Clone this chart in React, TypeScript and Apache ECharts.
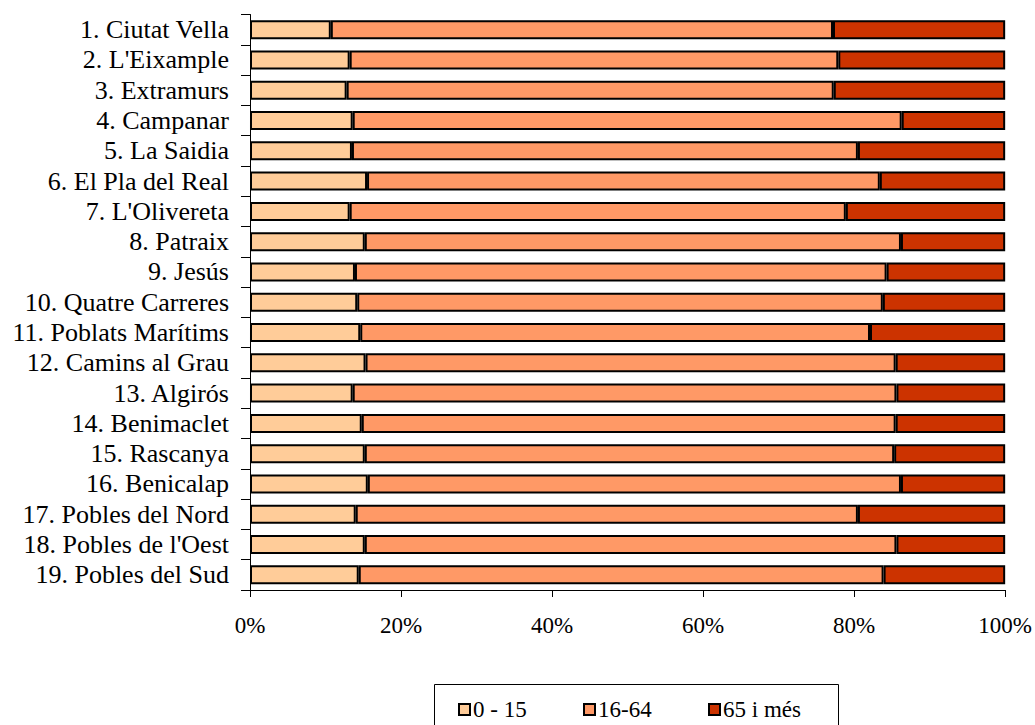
import React, { useEffect, useRef } from "react";
import * as echarts from "echarts";

const categories = [
  "1. Ciutat Vella",
  "2. L'Eixample",
  "3. Extramurs",
  "4. Campanar",
  "5. La Saidia",
  "6. El Pla del Real",
  "7. L'Olivereta",
  "8. Patraix",
  "9. Jesús",
  "10. Quatre Carreres",
  "11. Poblats Marítims",
  "12. Camins al Grau",
  "13. Algirós",
  "14. Benimaclet",
  "15. Rascanya",
  "16. Benicalap",
  "17. Pobles del Nord",
  "18. Pobles de l'Oest",
  "19. Pobles del Sud",
];

const age0to15 = [10.7, 13.2, 12.8, 13.6, 13.5, 15.5, 13.2, 15.2, 13.9, 14.2, 14.6, 15.3, 13.6, 14.8, 15.2, 15.6, 14.0, 15.2, 14.4];
const age16to64 = [66.5, 64.7, 64.5, 72.7, 67.0, 67.9, 65.7, 71.0, 70.4, 69.6, 67.5, 70.2, 72.0, 70.7, 70.1, 70.6, 66.5, 70.4, 69.5];
const age65plus = [22.8, 22.1, 22.7, 13.7, 19.5, 16.6, 21.1, 13.8, 15.7, 16.2, 17.9, 14.5, 14.4, 14.5, 14.7, 13.8, 19.5, 14.4, 16.1];

const seriesNames = ["0 - 15", "16-64", "65 i més"];
const seriesColors = ["#FFCC99", "#FF9966", "#CC3300"];
const legendLefts = [458, 583, 708];

const FONT = "'Liberation Serif', 'Times New Roman', serif";

export default function App() {
  const ref = useRef<HTMLDivElement>(null);
  useEffect(() => {
    if (!ref.current) return;
    const chart = echarts.init(ref.current, undefined, { renderer: "svg" });
    const data = [age0to15, age16to64, age65plus];
    chart.setOption({
      animation: false,
      backgroundColor: "#ffffff",
      grid: { left: 250, right: 28, top: 14.5, bottom: 135, containLabel: false },
      xAxis: {
        type: "value",
        min: 0,
        max: 100,
        interval: 20,
        splitLine: { show: false },
        axisLine: { show: true, lineStyle: { color: "#000", width: 1 } },
        axisTick: { show: true, length: 7, lineStyle: { color: "#000" } },
        axisLabel: {
          formatter: "{value}%",
          color: "#000",
          fontFamily: FONT,
          fontSize: 23,
          margin: 24,
        },
      },
      yAxis: {
        type: "category",
        inverse: true,
        data: categories,
        axisLine: { show: true, lineStyle: { color: "#000", width: 1 } },
        axisTick: { show: true, length: 9, lineStyle: { color: "#000" } },
        axisLabel: {
          interval: 0,
          color: "#000",
          fontFamily: FONT,
          fontSize: 26,
          margin: 21,
        },
      },
      graphic: [
        {
          type: "rect",
          shape: { x: 434.5, y: 684.5, width: 404, height: 60 },
          style: { fill: "#fff", stroke: "#000", lineWidth: 1 },
          z: 0,
        },
      ],
      legend: seriesNames.map((name, i) => ({
        left: legendLefts[i],
        top: 698,
        orient: "horizontal",
        data: [name],
        selectedMode: false,
        padding: 0,
        itemGap: 0,
        itemWidth: 11,
        itemHeight: 11,
        icon: "rect",
        z: 5,
        textStyle: {
          color: "#000",
          fontFamily: FONT,
          fontSize: 23,
          padding: [0, 0, 0, -2],
        },
      })),
      series: seriesNames.map((name, i) => ({
        name,
        type: "bar",
        stack: "total",
        data: data[i],
        barWidth: 19,
        itemStyle: {
          color: seriesColors[i],
          borderColor: "#000",
          borderWidth: 2,
        },
      })),
    });
    return () => chart.dispose();
  }, []);
  return (
    <div
      ref={ref}
      style={{ position: "fixed", left: 0, top: 0, width: 1035, height: 725, background: "#fff" }}
    />
  );
}
